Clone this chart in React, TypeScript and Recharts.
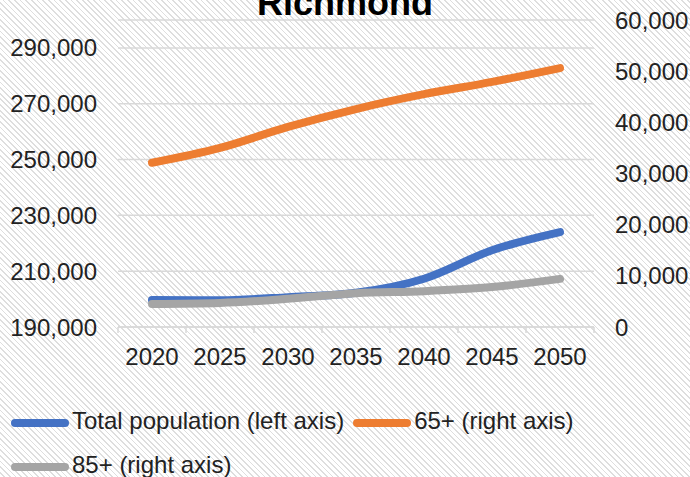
import React from "react";
import {
  LineChart,
  Line,
  XAxis,
  YAxis,
  CartesianGrid,
  Legend,
} from "recharts";

const years = ["2020", "2025", "2030", "2035", "2040", "2045", "2050"];
const totalPopulation = [199700, 199600, 200700, 202300, 207300, 217500, 224000];
const age65 = [32100, 35000, 39100, 42600, 45500, 47900, 50600];
const age85 = [4500, 4700, 5500, 6600, 7000, 7800, 9400];
const leftTicks = [190000, 210000, 230000, 250000, 270000, 290000];
const rightTicks = [0, 10000, 20000, 30000, 40000, 50000, 60000];

const seriesInfo = [
  { key: "total", name: "Total population (left axis)", color: "#4472C4" },
  { key: "a65", name: "65+ (right axis)", color: "#ED7D31" },
  { key: "a85", name: "85+ (right axis)", color: "#A5A5A5" },
];

const chartData = years.map((year, i) => ({
  year,
  total: totalPopulation[i],
  a65: age65[i],
  a85: age85[i],
}));

const fmt = (v: number) => v.toLocaleString("en-US");

const XTick = (props: any) => {
  const { x, y, payload, index } = props;
  const off = payload && payload.offset ? payload.offset : 0;
  const y0 = y - 21;
  return (
    <g>
      <line x1={x - off} x2={x - off} y1={y0} y2={y0 + 6} stroke="#d9d9d9" strokeWidth={1.5} />
      {index === years.length - 1 && (
        <line x1={x + off} x2={x + off} y1={y0} y2={y0 + 6} stroke="#d9d9d9" strokeWidth={1.5} />
      )}
      <text
        x={x}
        y={y}
        dy="0.71em"
        textAnchor="middle"
        fill="#222"
        fontSize={24}
        fontFamily="'Liberation Sans', Arial, sans-serif"
      >
        {payload.value}
      </text>
    </g>
  );
};

const LegendContent = () => (
  <div style={{ display: "flex", flexWrap: "wrap", width: 640, paddingLeft: 11 }}>
    {seriesInfo.map((s) => (
      <div
        key={s.key}
        style={{ display: "flex", alignItems: "center", height: 44, marginRight: 9 }}
      >
        <div
          style={{
            width: 58,
            height: 8,
            borderRadius: 4,
            background: s.color,
            marginRight: 3,
          }}
        />
        <span
          style={{
            position: "relative",
            top: -2,
            fontFamily: "'Liberation Sans', Arial, sans-serif",
            fontSize: 24,
            color: "#222",
          }}
        >
          {s.name}
        </span>
      </div>
    ))}
  </div>
);

export default function App() {
  const tickStyle = {
    fontSize: 24,
    fill: "#222",
    fontFamily: "'Liberation Sans', Arial, sans-serif",
  };
  return (
    <div
      style={{
        position: "relative",
        width: 690,
        height: 477,
        overflow: "hidden",
        background:
          "repeating-linear-gradient(45deg, #ffffff 0px, #ffffff 2.8px, #dedede 2.8px, #dedede 4px)",
      }}
    >
      <style>{`body{margin:0}`}</style>
      <div
        style={{
          position: "absolute",
          left: 0,
          width: 690,
          top: -15.5,
          textAlign: "center",
          fontFamily: "'Liberation Sans', Arial, sans-serif",
          fontWeight: "bold",
          fontSize: 36,
          lineHeight: "36px",
          color: "#000",
        }}
      >
        Richmond
      </div>
      <LineChart
        width={690}
        height={477}
        data={chartData}
        margin={{ top: 20, right: 0, bottom: 110, left: 0 }}
      >
        <CartesianGrid
          yAxisId="left"
          vertical={false}
          stroke="#d9d9d9"
          strokeWidth={1.5}
        />
        <XAxis
          dataKey="year"
          scale="band"
          height={40}
          tickLine={false}
          axisLine={{ stroke: "#d9d9d9", strokeWidth: 1.5 }}
          tickMargin={15}
          tick={<XTick />}
          interval={0}
        />
        <YAxis
          yAxisId="left"
          width={118}
          domain={[190000, 300000]}
          ticks={leftTicks}
          tickFormatter={fmt}
          axisLine={false}
          tickLine={false}
          tickMargin={15}
          tick={tickStyle}
          allowDataOverflow
        />
        <YAxis
          yAxisId="right"
          orientation="right"
          width={96}
          domain={[0, 60000]}
          ticks={rightTicks}
          tickFormatter={fmt}
          axisLine={false}
          tickLine={false}
          tickMargin={15}
          tick={{ ...tickStyle, textAnchor: "start" }}
        />
        <Legend
          layout="vertical"
          align="center"
          verticalAlign="middle"
          wrapperStyle={{ left: 0, top: 401, width: 690 }}
          content={<LegendContent />}
        />
        <Line
          yAxisId="left"
          type="monotone"
          dataKey="total"
          name={seriesInfo[0].name}
          stroke={seriesInfo[0].color}
          strokeWidth={8}
          strokeLinecap="round"
          dot={false}
          isAnimationActive={false}
        />
        <Line
          yAxisId="right"
          type="monotone"
          dataKey="a65"
          name={seriesInfo[1].name}
          stroke={seriesInfo[1].color}
          strokeWidth={8}
          strokeLinecap="round"
          dot={false}
          isAnimationActive={false}
        />
        <Line
          yAxisId="right"
          type="monotone"
          dataKey="a85"
          name={seriesInfo[2].name}
          stroke={seriesInfo[2].color}
          strokeWidth={8}
          strokeLinecap="round"
          dot={false}
          isAnimationActive={false}
        />
      </LineChart>
    </div>
  );
}
